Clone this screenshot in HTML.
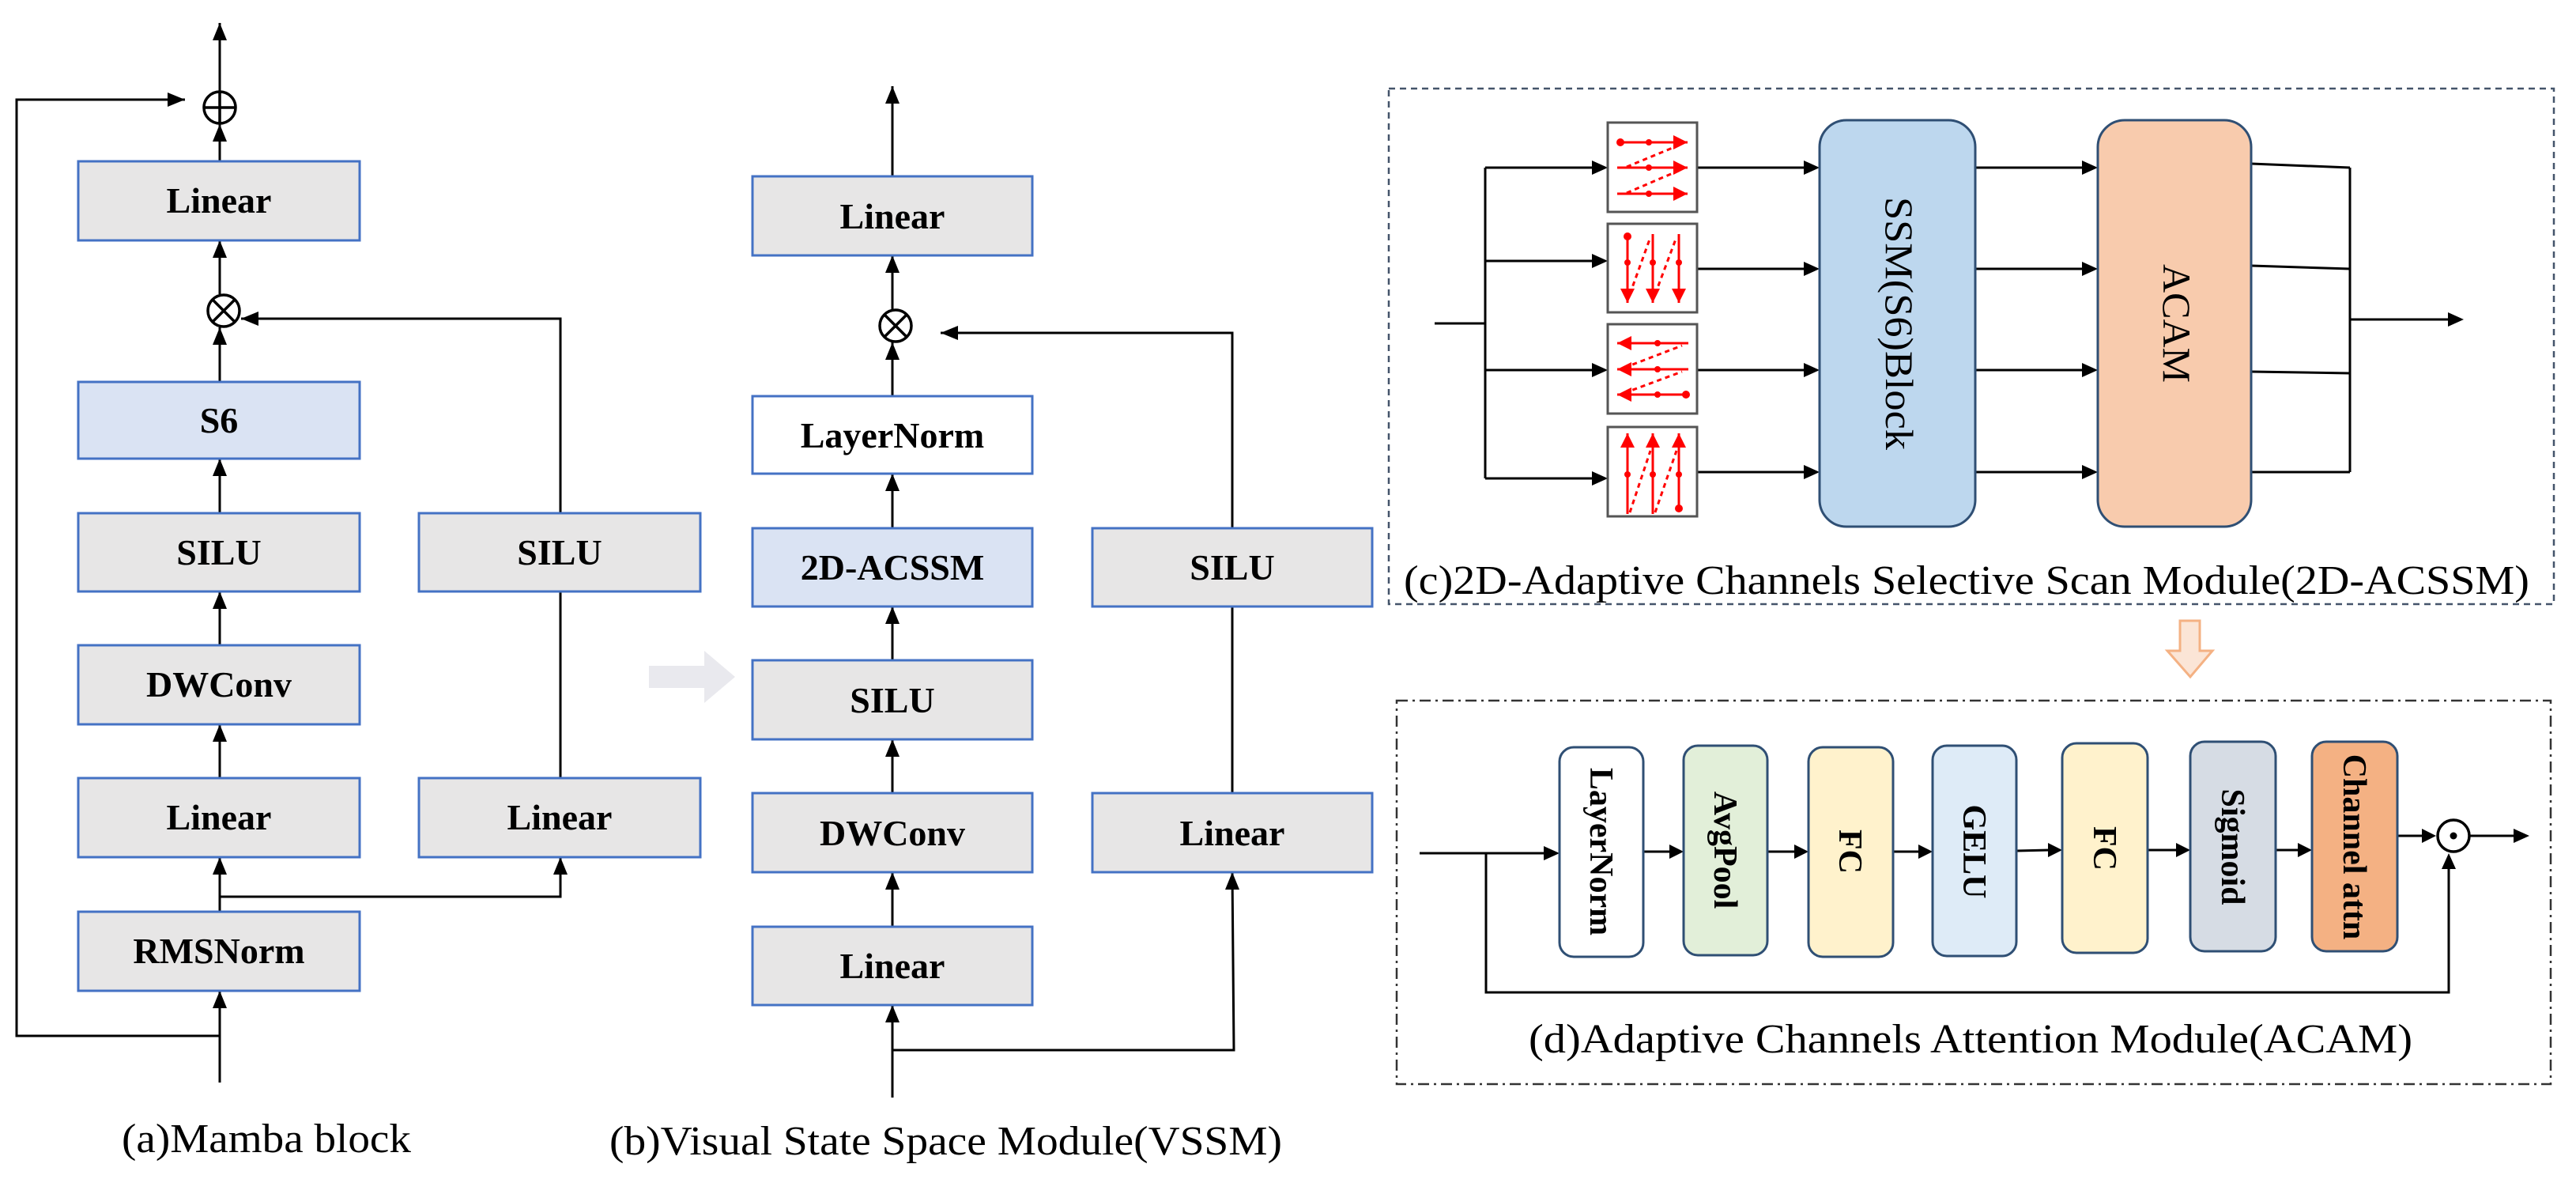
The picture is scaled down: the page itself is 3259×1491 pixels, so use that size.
<!DOCTYPE html>
<html><head><meta charset="utf-8"><style>
html,body{margin:0;padding:0;background:#fff}
svg{display:block}
.b{font-family:"Liberation Serif",serif;font-weight:bold;font-size:46px;fill:#000}
.r{font-family:"Liberation Serif",serif;font-weight:bold;font-size:42px;fill:#000}
.l{font-family:"Liberation Serif",serif;font-size:52px;fill:#000}
</style></head><body>
<svg width="3259" height="1491" viewBox="0 0 3259 1491" xmlns="http://www.w3.org/2000/svg" font-family="Liberation Serif, serif">
<defs>
<marker id="ar" viewBox="0 0 10 10" refX="10" refY="5" markerWidth="6" markerHeight="6" orient="auto"><path d="M0,0 L10,5 L0,10 z" fill="#f00"/></marker>
</defs>
<style>
.ln{stroke:#000;stroke-width:3;fill:none}
.bx{fill:#e7e6e6;stroke:#4472c4;stroke-width:3}
</style>

<!-- ===== (a) Mamba ===== -->
<g class="ln">
<line x1="278" y1="1369" x2="278" y2="1253"/>
<polyline points="278,1310 21,1310 21,126 234,126"/>
<line x1="278" y1="1153" x2="278" y2="1084"/>
<polyline points="278,1134 709,1134 709,1084"/>
<line x1="278" y1="984" x2="278" y2="916"/>
<line x1="278" y1="816" x2="278" y2="748"/>
<line x1="278" y1="649" x2="278" y2="580"/>
<line x1="278" y1="483" x2="278" y2="414"/>
<line x1="278" y1="372" x2="278" y2="304"/>
<line x1="278" y1="204" x2="278" y2="157"/>
<line x1="278" y1="115" x2="278" y2="29"/>
<line x1="709" y1="984" x2="709" y2="748"/>
<polyline points="709,649 709,403 305,403"/>
</g>
<g fill="#000">
<path d="M278,1253 l-9,22 h18z"/>
<path d="M234,126 l-22,-9 v18z"/>
<path d="M278,1084 l-9,22 h18z"/>
<path d="M709,1084 l-9,22 h18z"/>
<path d="M278,916 l-9,22 h18z"/>
<path d="M278,748 l-9,22 h18z"/>
<path d="M278,580 l-9,22 h18z"/>
<path d="M278,414 l-9,22 h18z"/>
<path d="M278,304 l-9,22 h18z"/>
<path d="M278,157 l-9,22 h18z"/>
<path d="M278,29 l-9,22 h18z"/>
<path d="M305,403 l22,-9 v18z"/>
</g>
<circle cx="278" cy="136" r="20" fill="none" stroke="#000" stroke-width="3.5"/>
<line x1="258" y1="136" x2="298" y2="136" stroke="#000" stroke-width="3.5"/>
<line x1="278" y1="116" x2="278" y2="156" stroke="#000" stroke-width="3.5"/>
<circle cx="283" cy="393" r="20" fill="none" stroke="#000" stroke-width="3.5"/>
<line x1="269" y1="379" x2="297" y2="407" stroke="#000" stroke-width="3.5"/>
<line x1="297" y1="379" x2="269" y2="407" stroke="#000" stroke-width="3.5"/>

<rect class="bx" x="99" y="204" width="356" height="100"/>
<rect class="bx" x="99" y="483" width="356" height="97" style="fill:#dae3f3"/>
<rect class="bx" x="99" y="649" width="356" height="99"/>
<rect class="bx" x="99" y="816" width="356" height="100"/>
<rect class="bx" x="99" y="984" width="356" height="100"/>
<rect class="bx" x="99" y="1153" width="356" height="100"/>
<rect class="bx" x="530" y="649" width="356" height="99"/>
<rect class="bx" x="530" y="984" width="356" height="100"/>
<g class="b" text-anchor="middle">
<text x="277" y="269">Linear</text>
<text x="277" y="547">S6</text>
<text x="277" y="714">SILU</text>
<text x="277" y="881">DWConv</text>
<text x="277" y="1049">Linear</text>
<text x="277" y="1218">RMSNorm</text>
<text x="708" y="714">SILU</text>
<text x="708" y="1049">Linear</text>
</g>
<text x="154" y="1457" font-family="Liberation Serif, serif" font-size="52" textLength="366" lengthAdjust="spacingAndGlyphs">(a)Mamba block</text>

<!-- grey arrow -->
<path d="M821,842 h70 v-19 l39,33 l-39,33 v-19 h-70z" fill="#e9e9ee"/>

<!-- ===== (b) VSSM ===== -->
<g class="ln">
<line x1="1129" y1="1388" x2="1129" y2="1271"/>
<polyline points="1129,1328 1561,1328 1559,1103"/>
<line x1="1129" y1="1172" x2="1129" y2="1103"/>
<line x1="1129" y1="1003" x2="1129" y2="935"/>
<line x1="1129" y1="835" x2="1129" y2="767"/>
<line x1="1129" y1="668" x2="1129" y2="599"/>
<line x1="1129" y1="501" x2="1129" y2="433"/>
<line x1="1129" y1="391" x2="1129" y2="323"/>
<line x1="1129" y1="223" x2="1129" y2="109"/>
<line x1="1559" y1="1003" x2="1559" y2="767"/>
<polyline points="1559,668 1559,421 1190,421"/>
</g>
<g fill="#000">
<path d="M1129,1271 l-9,22 h18z"/>
<path d="M1559,1103 l-9,22 h18z"/>
<path d="M1129,1103 l-9,22 h18z"/>
<path d="M1129,935 l-9,22 h18z"/>
<path d="M1129,767 l-9,22 h18z"/>
<path d="M1129,599 l-9,22 h18z"/>
<path d="M1129,433 l-9,22 h18z"/>
<path d="M1129,323 l-9,22 h18z"/>
<path d="M1129,109 l-9,22 h18z"/>
<path d="M1190,421 l22,-9 v18z"/>
</g>
<circle cx="1133" cy="412" r="20" fill="none" stroke="#000" stroke-width="3.5"/>
<line x1="1119" y1="398" x2="1147" y2="426" stroke="#000" stroke-width="3.5"/>
<line x1="1147" y1="398" x2="1119" y2="426" stroke="#000" stroke-width="3.5"/>
<rect class="bx" x="952" y="223" width="354" height="100"/>
<rect class="bx" x="952" y="501" width="354" height="98" style="fill:#fff"/>
<rect class="bx" x="952" y="668" width="354" height="99" style="fill:#dae3f3"/>
<rect class="bx" x="952" y="835" width="354" height="100"/>
<rect class="bx" x="952" y="1003" width="354" height="100"/>
<rect class="bx" x="952" y="1172" width="354" height="99"/>
<rect class="bx" x="1382" y="668" width="354" height="99"/>
<rect class="bx" x="1382" y="1003" width="354" height="100"/>
<g class="b" text-anchor="middle">
<text x="1129" y="289">Linear</text>
<text x="1129" y="566">LayerNorm</text>
<text x="1129" y="733">2D-ACSSM</text>
<text x="1129" y="901">SILU</text>
<text x="1129" y="1069">DWConv</text>
<text x="1129" y="1237">Linear</text>
<text x="1559" y="733">SILU</text>
<text x="1559" y="1069">Linear</text>
</g>
<text x="771" y="1460" font-family="Liberation Serif, serif" font-size="52" textLength="851" lengthAdjust="spacingAndGlyphs">(b)Visual State Space Module(VSSM)</text>

<!-- ===== (c) ===== -->
<rect x="1757" y="112" width="1474" height="652" fill="none" stroke="#44546a" stroke-width="2.5" stroke-dasharray="8,6"/>
<g class="ln">
<line x1="1815" y1="409" x2="1879" y2="409"/>
<line x1="1879" y1="212" x2="1879" y2="605"/>
<line x1="1879" y1="212" x2="2016" y2="212"/>
<line x1="1879" y1="330" x2="2016" y2="330"/>
<line x1="1879" y1="468" x2="2016" y2="468"/>
<line x1="1879" y1="605" x2="2016" y2="605"/>
<line x1="2147" y1="212" x2="2284" y2="212"/>
<line x1="2147" y1="340" x2="2284" y2="340"/>
<line x1="2147" y1="468" x2="2284" y2="468"/>
<line x1="2147" y1="597" x2="2284" y2="597"/>
<line x1="2499" y1="212" x2="2636" y2="212"/>
<line x1="2499" y1="340" x2="2636" y2="340"/>
<line x1="2499" y1="468" x2="2636" y2="468"/>
<line x1="2499" y1="597" x2="2636" y2="597"/>
<line x1="2848" y1="207" x2="2973" y2="212"/>
<line x1="2848" y1="336" x2="2973" y2="340"/>
<line x1="2848" y1="470" x2="2973" y2="472"/>
<line x1="2848" y1="597" x2="2973" y2="597"/>
<line x1="2973" y1="212" x2="2973" y2="597"/>
<line x1="2973" y1="404" x2="3097" y2="404"/>
</g>
<g fill="#000">
<path d="M2034,212 l-20,-9 v18z"/><path d="M2034,330 l-20,-9 v18z"/><path d="M2034,468 l-20,-9 v18z"/><path d="M2034,605 l-20,-9 v18z"/>
<path d="M2302,212 l-20,-9 v18z"/><path d="M2302,340 l-20,-9 v18z"/><path d="M2302,468 l-20,-9 v18z"/><path d="M2302,597 l-20,-9 v18z"/>
<path d="M2654,212 l-20,-9 v18z"/><path d="M2654,340 l-20,-9 v18z"/><path d="M2654,468 l-20,-9 v18z"/><path d="M2654,597 l-20,-9 v18z"/>
<path d="M3117,404 l-20,-9 v18z"/>
</g>
<g stroke="#555" stroke-width="3" fill="#fff">
<rect x="2034" y="155" width="113" height="113"/>
<rect x="2034" y="283" width="113" height="112"/>
<rect x="2034" y="410" width="113" height="113"/>
<rect x="2034" y="540" width="113" height="113"/>
</g>
<g stroke="#f00" stroke-width="3" fill="none">
<line x1="2050" y1="180" x2="2135" y2="180" marker-end="url(#ar)"/>
<line x1="2046" y1="212" x2="2135" y2="212" marker-end="url(#ar)"/>
<line x1="2046" y1="245" x2="2135" y2="245" marker-end="url(#ar)"/>
<line x1="2058" y1="211" x2="2128" y2="182" stroke-dasharray="6,5"/>
<line x1="2058" y1="244" x2="2128" y2="214" stroke-dasharray="6,5"/>
<line x1="2059" y1="296" x2="2059" y2="383" marker-end="url(#ar)"/>
<line x1="2091" y1="296" x2="2091" y2="383" marker-end="url(#ar)"/>
<line x1="2124" y1="296" x2="2124" y2="383" marker-end="url(#ar)"/>
<line x1="2062" y1="372" x2="2088" y2="300" stroke-dasharray="6,5"/>
<line x1="2094" y1="372" x2="2121" y2="300" stroke-dasharray="6,5"/>
<line x1="2136" y1="434" x2="2046" y2="434" marker-end="url(#ar)"/>
<line x1="2136" y1="467" x2="2046" y2="467" marker-end="url(#ar)"/>
<line x1="2130" y1="499" x2="2046" y2="499" marker-end="url(#ar)"/>
<line x1="2055" y1="465" x2="2128" y2="437" stroke-dasharray="6,5"/>
<line x1="2055" y1="497" x2="2128" y2="470" stroke-dasharray="6,5"/>
<line x1="2059" y1="650" x2="2059" y2="548" marker-end="url(#ar)"/>
<line x1="2091" y1="650" x2="2091" y2="548" marker-end="url(#ar)"/>
<line x1="2124" y1="640" x2="2124" y2="548" marker-end="url(#ar)"/>
<line x1="2062" y1="648" x2="2088" y2="570" stroke-dasharray="6,5"/>
<line x1="2094" y1="648" x2="2121" y2="570" stroke-dasharray="6,5"/>
</g>
<g fill="#f00">
<circle cx="2050" cy="180" r="5"/><circle cx="2086" cy="180" r="4"/><circle cx="2086" cy="212" r="4"/><circle cx="2086" cy="245" r="4"/>
<circle cx="2059" cy="299" r="5"/><circle cx="2059" cy="332" r="4"/><circle cx="2091" cy="332" r="4"/><circle cx="2124" cy="332" r="4"/>
<circle cx="2133" cy="499" r="5"/><circle cx="2097" cy="434" r="4"/><circle cx="2097" cy="467" r="4"/><circle cx="2097" cy="499" r="4"/>
<circle cx="2124" cy="643" r="5"/><circle cx="2059" cy="600" r="4"/><circle cx="2091" cy="600" r="4"/><circle cx="2124" cy="600" r="4"/>
</g>
<rect x="2302" y="152" width="197" height="514" rx="34" fill="#bdd7ee" stroke="#2f4f74" stroke-width="3"/>
<rect x="2654" y="152" width="194" height="514" rx="34" fill="#f8cbad" stroke="#2f4f74" stroke-width="3"/>
<text transform="translate(2386,409) rotate(90)" text-anchor="middle" font-family="Liberation Serif, serif" font-size="50" textLength="320" lengthAdjust="spacingAndGlyphs">SSM(S6)Block</text>
<text transform="translate(2737,409) rotate(90)" text-anchor="middle" font-family="Liberation Serif, serif" font-size="50">ACAM</text>
<text x="1776" y="751" font-family="Liberation Serif, serif" font-size="52" textLength="1424" lengthAdjust="spacingAndGlyphs">(c)2D-Adaptive Channels  Selective Scan Module(2D-ACSSM)</text>

<path d="M2758,785 h25 v38 h16 l-28,33 l-29,-33 h16z" fill="#fbe5d6" stroke="#f4b183" stroke-width="3"/>

<!-- ===== (d) ===== -->
<rect x="1767" y="886" width="1460" height="485" fill="none" stroke="#333" stroke-width="2.5" stroke-dasharray="14,6,3,6"/>
<g class="ln">
<line x1="1796" y1="1079" x2="1955" y2="1079"/>
<polyline points="1880,1079 1880,1255 3098,1255 3098,1097"/>
<line x1="2079" y1="1077" x2="2114" y2="1077"/>
<line x1="2236" y1="1077" x2="2272" y2="1077"/>
<line x1="2395" y1="1077" x2="2429" y2="1077"/>
<line x1="2551" y1="1076" x2="2593" y2="1075"/>
<line x1="2717" y1="1075" x2="2755" y2="1075"/>
<line x1="2879" y1="1075" x2="2909" y2="1075"/>
<line x1="3033" y1="1057" x2="3064" y2="1057"/>
<line x1="3124" y1="1057" x2="3182" y2="1057"/>
</g>
<g fill="#000">
<path d="M1973,1079 l-20,-9 v18z"/>
<path d="M2130,1077 l-18,-9 v18z"/>
<path d="M2288,1077 l-18,-9 v18z"/>
<path d="M2445,1077 l-18,-9 v18z"/>
<path d="M2609,1075 l-18,-9 v18z"/>
<path d="M2771,1075 l-18,-9 v18z"/>
<path d="M2925,1075 l-18,-9 v18z"/>
<path d="M3082,1057 l-18,-9 v18z"/>
<path d="M3200,1057 l-20,-9 v18z"/>
<path d="M3098,1079 l-9,20 h18z"/>
</g>
<circle cx="3104" cy="1057" r="20" fill="none" stroke="#000" stroke-width="3.5"/>
<circle cx="3104" cy="1057" r="4.5" fill="#000"/>
<g stroke="#2f4f74" stroke-width="3">
<rect x="1973" y="945" width="106" height="265" rx="18" fill="#fff"/>
<rect x="2130" y="943" width="106" height="265" rx="18" fill="#e2efd9"/>
<rect x="2288" y="945" width="107" height="265" rx="18" fill="#fff2cc"/>
<rect x="2445" y="943" width="106" height="266" rx="18" fill="#deebf7"/>
<rect x="2609" y="940" width="108" height="265" rx="18" fill="#fff2cc"/>
<rect x="2771" y="938" width="108" height="265" rx="18" fill="#d6dce4"/>
<rect x="2925" y="938" width="108" height="265" rx="18" fill="#f4b183"/>
</g>
<g class="r" text-anchor="middle">
<text transform="translate(2012,1077) rotate(90)">LayerNorm</text>
<text transform="translate(2169,1075) rotate(90)">AvgPool</text>
<text transform="translate(2327,1077) rotate(90)">FC</text>
<text transform="translate(2484,1077) rotate(90)">GELU</text>
<text transform="translate(2649,1073) rotate(90)">FC</text>
<text transform="translate(2811,1071) rotate(90)">Sigmoid</text>
<text transform="translate(2965,1071) rotate(90)">Channel attn</text>
</g>
<text x="1934" y="1331" font-family="Liberation Serif, serif" font-size="52" textLength="1118" lengthAdjust="spacingAndGlyphs">(d)Adaptive Channels  Attention Module(ACAM)</text>
</svg>
</body></html>
